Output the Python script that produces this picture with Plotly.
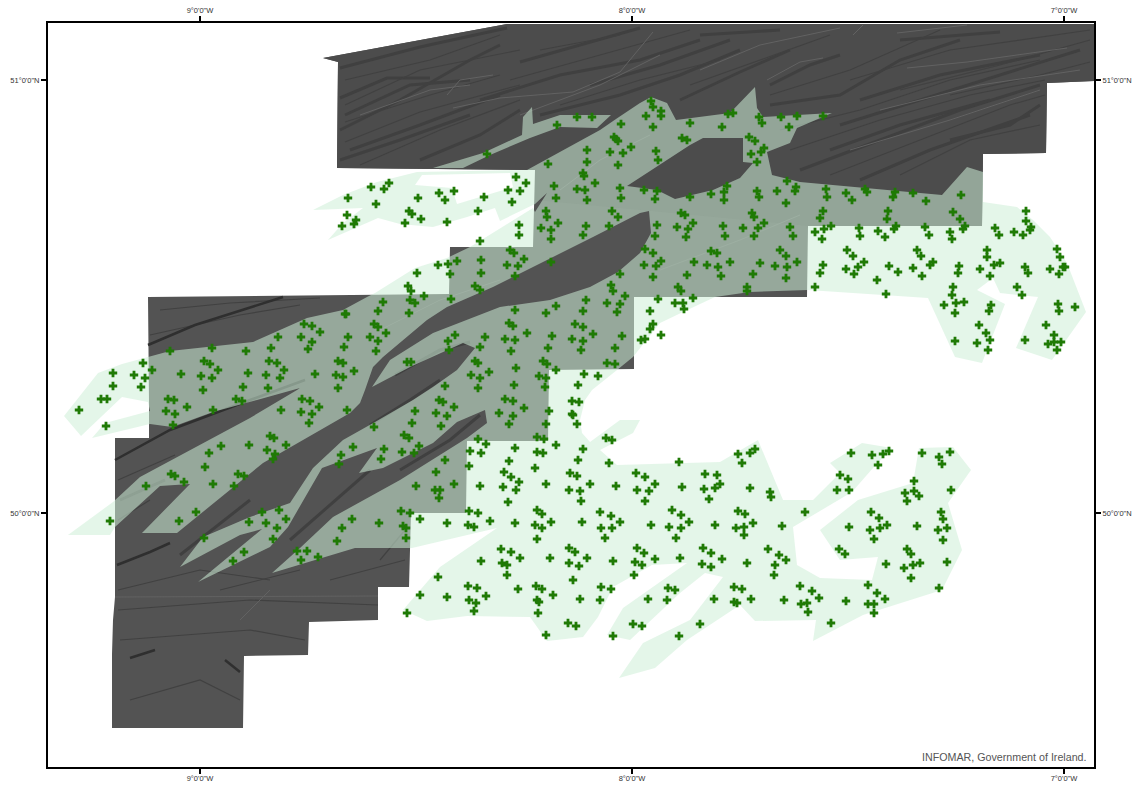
import plotly.graph_objects as go

# Graticule: sheet reading of each labelled meridian / parallel
meridian_deg = [-9, -8, -7]
meridian_read = [200, 632, 1064]
parallel_deg = [50, 51]
parallel_read = [513, 80]
meridian_text = ["9°0'0\"W", "8°0'0\"W", "7°0'0\"W"]
parallel_text = ["50°0'0\"N", "51°0'0\"N"]
sheet_east = [48, 1094]
sheet_south = [767, 23]

stations_west = [
(79,410),(106,426),(101,399),(107,399),(113,386),(113,373),(134,375),(141,387),(145,378),(143,363),(152,370),(170,351),(181,374),(212,348),(204,361),(210,364),(218,370),(201,376),(212,378),(203,390),(168,399),(174,400),(187,407),(166,411),(175,414),(173,425),(213,410),(246,351),(271,348),(278,337),(304,324),(312,326),(320,332),(301,337),(312,342),(308,349),(345,314),(348,337),(344,347),(269,361),(277,363),(284,370),(248,373),(266,375),(280,378),(243,387),(268,388),(315,374),(338,361),(343,363),(336,375),(343,377),(338,388),(236,399),(242,401),(302,399),(310,401),(319,407),(301,412),(312,414),(281,410),(347,410),(309,423),(270,436),(274,438),(249,445),(286,445),(221,446),(209,453),(267,450),(275,454),(273,459),(205,467),(171,474),(175,476),(184,482),(146,486),(238,474),(244,476),(213,484),(234,486),(196,512),(179,521),(110,521),(262,512),(279,510),(249,522),(266,523),(286,519),(277,528),(273,539),(204,538),(244,552),(233,561),(297,551),(307,551),(301,560),(318,557),(342,528),(337,541),(341,455),(339,464)]
stations_central = [
(487,154),(548,164),(587,150),(587,162),(583,173),(584,176),(595,183),(554,186),(577,189),(585,190),(556,198),(587,200),(516,177),(526,183),(508,190),(520,191),(512,202),(484,197),(478,211),(454,191),(439,193),(445,200),(418,198),(389,183),(384,189),(371,187),(348,198),(376,204),(347,215),(356,220),(354,224),(342,226),(409,211),(412,214),(421,219),(405,223),(447,222),(546,211),(547,217),(558,223),(541,228),(551,230),(586,226),(583,235),(551,239),(519,225),(519,235),(480,241),(510,250),(514,253),(481,260),(524,259),(457,261),(448,264),(438,265),(507,265),(518,266),(551,262),(481,273),(417,273),(450,274),(515,276),(408,286),(411,291),(475,286),(480,290),(424,296),(451,299),(383,302),(410,300),(415,303),(378,311),(409,313),(346,314),(515,310),(546,313),(556,306),(586,300),(583,311),(374,324),(378,327),(509,323),(513,326),(575,324),(583,327),(386,333),(455,335),(527,333),(593,334),(370,337),(485,337),(552,336),(505,339),(515,340),(572,339),(378,341),(448,341),(583,341),(480,347),(548,348),(376,351),(449,350),(511,351),(581,350),(407,362),(411,362),(475,361),(478,363),(543,361),(547,364),(516,368),(556,370),(354,371),(489,372),(471,375),(539,376),(546,378),(584,374),(598,376),(480,378),(445,386),(478,388),(514,385),(545,387),(578,385),(505,399),(513,401),(439,400),(443,402),(572,401),(579,402),(454,407),(415,411),(524,408),(549,411),(436,413),(447,416),(499,413),(513,416),(572,414),(573,415),(412,423),(441,426),(509,424),(546,424),(577,424),(374,427)]
stations_north_east = [
(651,101),(653,107),(661,111),(661,116),(646,116),(577,117),(592,117),(557,125),(621,124),(653,127),(690,123),(722,127),(728,114),(733,113),(759,117),(762,123),(781,117),(797,116),(823,116),(789,127),(749,137),(755,141),(614,137),(616,139),(618,141),(682,138),(687,140),(631,147),(610,152),(623,153),(656,151),(764,148),(761,152),(751,154),(658,160),(757,162),(618,165),(787,181),(727,186),(620,188),(644,190),(657,191),(724,192),(711,194),(757,191),(777,191),(795,191),(796,187),(759,197),(621,198),(655,199),(690,197),(724,200),(786,203),(612,211),(681,213),(685,215),(752,213),(754,217),(618,217),(693,223),(764,223),(609,226),(657,225),(677,227),(723,226),(743,228),(758,228),(790,227),(688,229),(655,236),(686,237),(725,236),(754,236),(793,236),(645,249),(780,250),(711,251),(717,253),(653,253),(786,256),(661,261),(694,262),(730,262),(760,263),(797,262),(644,265),(656,266),(707,265),(718,267),(775,266),(787,267),(620,274),(687,275),(721,276),(753,274),(653,277),(786,278),(611,285),(613,291),(678,287),(681,291),(747,287),(747,291),(625,296),(693,298),(658,299),(607,303),(620,304),(675,303),(683,303),(684,309),(617,312),(650,311),(653,324),(650,329),(661,335),(641,340),(645,339),(622,336),(615,348),(607,363),(615,364)]
stations_east = [
(826,189),(827,197),(846,193),(865,189),(867,192),(852,200),(895,192),(893,197),(913,193),(926,201),(961,195),(823,211),(820,218),(888,211),(887,219),(953,212),(960,219),(831,226),(824,229),(815,232),(822,239),(859,228),(860,236),(878,231),(885,237),(896,226),(894,229),(925,227),(929,235),(950,232),(952,239),(965,226),(963,229),(995,228),(999,235),(1014,232),(1023,235),(1026,211),(1026,221),(1031,227),(1030,230),(847,250),(853,256),(864,262),(858,267),(846,269),(854,274),(823,265),(820,273),(889,266),(898,272),(877,280),(815,287),(886,294),(917,250),(921,256),(933,262),(930,265),(913,268),(922,276),(959,266),(958,273),(953,287),(952,295),(944,305),(956,303),(964,302),(955,313),(987,250),(987,257),(1000,263),(994,265),(980,269),(990,276),(1025,267),(1028,273),(1050,269),(1057,249),(1060,257),(1063,267),(1065,267),(1059,274),(1017,287),(1022,295),(991,305),(989,311),(979,325),(986,333),(990,340),(977,343),(988,350),(955,341),(1025,340),(1058,304),(1059,311),(1075,307),(1046,325),(1054,335),(1048,344),(1054,342),(1061,342),(1057,350)]
stations_south_west = [
(404,435),(409,438),(353,447),(384,449),(402,452),(414,453),(419,446),(381,459),(445,460),(436,472),(416,486),(435,490),(440,490),(439,498),(454,484),(478,439),(486,444),(537,437),(544,439),(556,445),(470,451),(481,453),(515,448),(537,452),(543,453),(583,449),(509,461),(578,460),(469,466),(535,468),(504,472),(511,477),(519,482),(570,473),(577,476),(480,486),(503,487),(516,490),(546,484),(590,484),(569,490),(580,491),(581,501),(508,502),(537,510),(542,514),(401,511),(410,513),(420,519),(469,511),(478,513),(352,519),(379,523),(403,526),(406,528),(406,538),(447,523),(468,525),(474,527),(490,521),(515,523),(535,525),(542,528),(551,522),(582,522),(537,539),(501,549),(511,552),(520,558),(550,558),(569,548),(575,552),(587,558),(481,561),(502,563),(507,565),(569,563),(579,566),(507,575),(573,580),(438,577),(468,586),(477,588),(518,589),(536,586),(542,589),(553,595),(420,595),(447,597),(469,600),(476,603),(486,596),(537,600),(539,602),(580,599),(407,613),(474,611),(538,613),(568,623),(576,626),(546,635)]
stations_south_east = [
(606,438),(612,440),(609,463),(679,462),(738,454),(750,453),(755,449),(742,463),(851,453),(872,455),(883,454),(889,451),(878,465),(922,453),(939,457),(950,452),(942,464),(840,475),(848,479),(837,490),(849,490),(636,473),(645,477),(655,484),(616,486),(637,490),(649,491),(645,501),(682,487),(705,474),(717,475),(720,484),(715,488),(704,489),(709,499),(750,488),(770,492),(771,497),(914,481),(905,493),(914,491),(919,496),(907,501),(951,490),(805,512),(600,512),(611,516),(620,522),(601,528),(612,528),(605,538),(651,525),(672,510),(681,515),(689,522),(669,527),(681,528),(676,538),(715,525),(738,511),(745,514),(753,523),(736,528),(744,527),(744,535),(782,526),(871,512),(879,518),(887,525),(880,528),(870,530),(874,539),(849,527),(917,526),(941,512),(943,519),(947,528),(938,530),(943,540),(839,549),(845,554),(613,561),(637,548),(644,553),(635,562),(642,565),(655,559),(634,575),(680,558),(703,548),(711,553),(722,559),(702,564),(711,567),(747,563),(768,549),(779,555),(786,560),(775,565),(774,575),(886,564),(907,549),(911,554),(904,568),(913,565),(920,563),(911,578),(947,562),(939,588),(601,587),(611,589),(600,600),(648,599),(668,588),(675,590),(667,600),(714,599),(734,587),(742,589),(734,602),(737,603),(751,599),(784,600),(800,586),(812,591),(819,598),(801,604),(807,603),(808,612),(846,601),(868,585),(877,593),(885,599),(868,604),(874,604),(874,613),(831,623),(633,624),(642,626),(613,636),(700,624),(679,636)]

# Backscatter mosaic footprint
mosaic_outline = [(323,58),(507,24),(1094,24),(1094,81),(1047,83),(1046,153),(983,154),(982,226),(808,226),(807,297),(634,297),(634,369),(549,370),(548,441),(467,441),(466,513),(411,513),(409,587),(378,587),(378,620),(309,622),(308,655),(244,656),(243,728),(112,728),(112,654),(113,620),(115,597),(115,438),(149,438),(149,403),(148,297),(449,294),(450,247),(533,247),(535,170),(337,168),(338,62)]
mosaic_north_block = [(323,58),(507,24),(1094,24),(1094,81),(1047,83),(1046,153),(983,154),(982,226),(808,226),(535,200),(535,170),(337,168),(338,62)]

# Surveyed seabed area
survey_outline = [(64,416),(98,373),(122,364),(148,357),(170,351),(253,342),(307,318),(343,310),(367,297),(375,293),(415,268),(447,258),(470,247),(533,208),(535,212),(547,193),(535,204),(500,221),(495,208),(467,217),(433,227),(400,224),(378,218),(328,240),(343,223),(363,208),(313,210),(343,195),(377,182),(417,172),(527,170),(600,130),(616,119),(640,103),(651,97),(667,103),(676,120),(730,113),(755,87),(757,108),(763,117),(832,113),(797,128),(790,143),(767,152),(772,175),(800,182),(942,195),(967,167),(983,172),(983,202),(1017,207),(1033,220),(1050,237),(1067,263),(1086,312),(1052,360),(1016,348),(1038,297),(1000,293),(993,278),(977,290),(1005,304),(982,363),(955,357),(928,298),(883,295),(808,290),(750,292),(715,297),(683,312),(660,323),(633,357),(617,370),(592,390),(585,400),(580,420),(582,433),(590,442),(620,420),(640,420),(633,433),(600,450),(617,465),(720,462),(758,440),(783,500),(813,500),(828,485),(840,473),(830,463),(862,443),(892,448),(873,468),(852,492),(793,527),(797,565),(820,578),(872,580),(878,557),(840,560),(820,530),(858,500),(913,483),(919,448),(953,447),(971,470),(948,503),(962,550),(942,590),(863,615),(813,641),(816,620),(755,621),(740,605),(687,640),(655,668),(619,678),(643,643),(690,620),(723,577),(705,573),(680,593),(630,640),(607,635),(623,608),(687,563),(652,565),(613,587),(598,617),(583,637),(547,641),(530,617),(467,616),(427,621),(403,610),(440,567),(497,528),(412,548),(355,548),(272,573),(300,548),(333,517),(400,480),(467,438),(487,423),(485,410),(457,422),(433,443),(383,468),(359,473),(377,448),(322,468),(288,527),(270,547),(198,582),(262,529),(240,535),(180,567),(203,537),(250,517),(290,503),(313,468),(343,440),(375,422),(413,400),(433,387),(457,370),(475,348),(463,343),(410,367),(372,387),(390,360),(433,333),(500,307),(550,300),(590,287),(618,272),(640,253),(651,233),(649,211),(640,213),(593,237),(533,267),(493,287),(447,307),(427,320),(383,357),(373,367),(365,390),(360,403),(350,413),(263,463),(177,533),(142,533),(190,484),(160,486),(115,527),(110,535),(68,535),(113,502),(140,477),(250,418),(297,390),(327,370),(300,388),(257,400),(213,412),(172,427),(150,424),(92,438),(105,423),(150,411),(148,402),(122,397),(81,436)]
survey_north_strip = [(433,168),(483,153),(522,135),(523,117),(532,107),(533,124),(560,115),(611,115),(597,128),(560,127),(530,138),(490,155),(463,168)]
survey_gap_island = [(627,186),(647,173),(690,145),(703,138),(743,138),(743,162),(753,163),(740,178),(713,190),(675,199),(657,190)]
survey_gap_north = [(415,185),(422,175),(510,173),(513,187),(457,204),(452,188)]

# Seabed relief seen in the mosaic: dark scarps and pale ridges
relief_dark = [
[(340,68),(420,47),(507,28)],[(340,98),(387,78),(430,78)],[(340,130),(400,100),(470,60),(500,45)],[(340,160),(400,140),(470,115)],
[(520,62),(580,45),(640,28)],[(480,100),(560,75),(640,60),(700,40)],[(540,115),(620,95),(680,75),(740,50)],[(680,100),(740,72),(790,50)],
[(770,85),(810,65),(840,55)],[(770,105),(840,95),(900,60),(960,40)],[(840,125),(920,100),(1000,75),(1080,50)],[(800,170),(880,140),(960,110),(1040,85)],
[(860,180),(930,150),(1030,115)],[(700,35),(780,30)],[(900,40),(1000,32)],[(350,150),(420,125),(500,95)],[(345,115),(410,85),(470,80)],
[(420,160),(480,135),(520,110)],[(590,85),(660,65),(730,40)],[(830,150),(900,125),(990,100)],[(860,100),(940,75),(1040,55)],[(950,140),(1010,125),(1040,105)],
[(395,375),(440,350),(470,342)],[(370,425),(410,400),(440,380)],[(400,470),(450,440),(480,415)],[(180,555),(250,500)],[(290,540),(370,470)],[(120,500),(165,480)]]
relief_fine = [
[(345,80),(430,60),(500,35)],[(345,105),(420,70),(520,50)],[(345,122),(430,95),(500,75)],[(345,142),(420,112),(520,85)],[(360,165),(440,130),(520,100)],
[(540,50),(620,35)],[(510,80),(600,55),(690,30)],[(560,105),(640,80),(720,60)],[(690,85),(760,60),(830,35)],[(770,95),(850,70),(940,30)],
[(780,130),(860,110),(950,80),(1040,60)],[(790,150),(880,120),(970,95),(1045,80)],[(830,175),(920,140),(1010,105),(1045,95)],[(900,175),(970,140),(1040,125)],
[(850,80),(950,50),(1090,30)],[(900,90),(1000,65),(1090,40)],[(950,95),(1040,75),(1090,62)],
[(160,310),(230,303),(320,298)],[(150,335),(240,315),(300,305)],[(118,480),(175,455)],[(118,520),(150,500)],[(118,590),(200,570),(270,580)],[(118,610),(250,600),(378,605)],
[(120,640),(250,630),(305,640)],[(130,700),(200,680),(240,700)],[(380,560),(405,530)],[(330,580),(405,560)],[(220,590),(300,570)]]
relief_scarp = [
[(148,345),(195,325),(283,297)],[(115,460),(170,430),(250,400),(305,380)],[(117,565),(150,552),(170,543)],
[(130,658),(155,650)],[(225,660),(240,672)]]
relief_pale = [
[(447,95),(460,80),(493,75)],[(453,108),(500,98),(573,92),(620,72),(653,32)],[(767,80),(800,62),(823,58)],[(853,35),(863,25)],[(897,33),(967,25)],[(907,68),(967,62),(1067,48)],
[(115,597),(378,596)],[(240,620),(270,590)],[(560,190),(600,160),(650,135)],[(660,270),(740,240),(800,215)],[(380,330),(440,300),(500,280)],
[(360,115),(430,90),(470,85)],[(520,115),(600,85),(660,55)],[(700,70),(760,45),(840,28)],[(850,150),(950,120),(1040,90)],[(880,110),(980,85),(1080,70)]]

LON_PER = (meridian_deg[-1] - meridian_deg[0]) / (meridian_read[-1] - meridian_read[0])
LAT_PER = (parallel_deg[1] - parallel_deg[0]) / (parallel_read[1] - parallel_read[0])
lon = lambda e: meridian_deg[0] + (e - meridian_read[0]) * LON_PER
lat = lambda s: parallel_deg[0] + (s - parallel_read[0]) * LAT_PER


def area(ring):
    return sum(a[0] * b[1] - b[0] * a[1] for a, b in zip(ring, ring[1:] + ring[:1]))


def rings(solid, holes=()):
    xs, ys = [], []
    for ring, want in [(r, 1) for r in solid] + [(r, -1) for r in holes]:
        r = list(ring) if area(ring) * want > 0 else list(ring)[::-1]
        r = r + r[:1]
        xs += [lon(p[0]) for p in r] + [None]
        ys += [lat(p[1]) for p in r] + [None]
    return xs[:-1], ys[:-1]


def lines(paths):
    xs, ys = [], []
    for path in paths:
        xs += [lon(p[0]) for p in path] + [None]
        ys += [lat(p[1]) for p in path] + [None]
    return xs, ys


fig = go.Figure()
def fill(xy, color):
    fig.add_trace(go.Scatter(x=xy[0], y=xy[1], mode="none", fill="toself", fillcolor=color, hoverinfo="skip", showlegend=False))

def stroke(paths, color, width):
    x, y = lines(paths)
    fig.add_trace(go.Scatter(x=x, y=y, mode="lines", line=dict(color=color, width=width), hoverinfo="skip", showlegend=False))

fill(rings([mosaic_outline]), "#535353")
fill(rings([mosaic_north_block]), "#4c4c4c")
stroke(relief_dark, "#404040", 3)
stroke(relief_fine, "#414141", 1.2)
stroke(relief_scarp, "#2f2f2f", 2.5)
stroke(relief_pale, "#626262", 1)
fill(rings([survey_outline, survey_north_strip], [survey_gap_island, survey_gap_north]), "rgba(205,239,215,0.55)")

all_stations = stations_west + stations_central + stations_north_east + stations_east + stations_south_west + stations_south_east
fig.add_trace(go.Scatter(x=[lon(p[0]) for p in all_stations], y=[lat(p[1]) for p in all_stations], mode="markers",
                         marker=dict(symbol="cross", size=7, color="#1f7a05", line=dict(width=0)), showlegend=False))
fig.add_trace(go.Scatter(x=[lon(sheet_east[0])], y=[lat(sheet_south[0])], xaxis="x2", yaxis="y2", mode="markers",
                         marker=dict(opacity=0), hoverinfo="skip", showlegend=False))

xr = [lon(v) for v in sheet_east]
yr = [lat(v) for v in sheet_south]
common = dict(showgrid=False, zeroline=False, showline=True, linecolor="black", linewidth=2, automargin=False, ticks="outside",
              ticklen=5, tickwidth=1.5, tickcolor="black", tickfont=dict(family="Liberation Sans", size=7.5, color="#333333"))
fig.update_layout(
    width=1137, height=785, margin=dict(l=48, r=43, t=23, b=18), paper_bgcolor="white", plot_bgcolor="white", showlegend=False,
    xaxis=dict(range=xr, tickmode="array", tickvals=meridian_deg, ticktext=meridian_text, side="bottom", anchor="y", ticklabelstandoff=-2, **common),
    yaxis=dict(range=yr, tickmode="array", tickvals=parallel_deg, ticktext=parallel_text, side="left", anchor="x", **common),
    xaxis2=dict(range=xr, tickmode="array", tickvals=meridian_deg, ticktext=meridian_text, side="top", overlaying="x", anchor="y2", **common),
    yaxis2=dict(range=yr, tickmode="array", tickvals=parallel_deg, ticktext=parallel_text, side="right", overlaying="y", anchor="x2", **common),
    annotations=[dict(text="INFOMAR, Government of Ireland.", xref="paper", yref="paper", x=0.995, y=0.003, xanchor="right", yanchor="bottom",
                      showarrow=False, font=dict(family="Liberation Sans", size=10.7, color="#555555"))],
)
fig.write_html("out.html", config={"displayModeBar": False}, post_script="document.body.style.margin='0';document.body.style.overflow='hidden';")
